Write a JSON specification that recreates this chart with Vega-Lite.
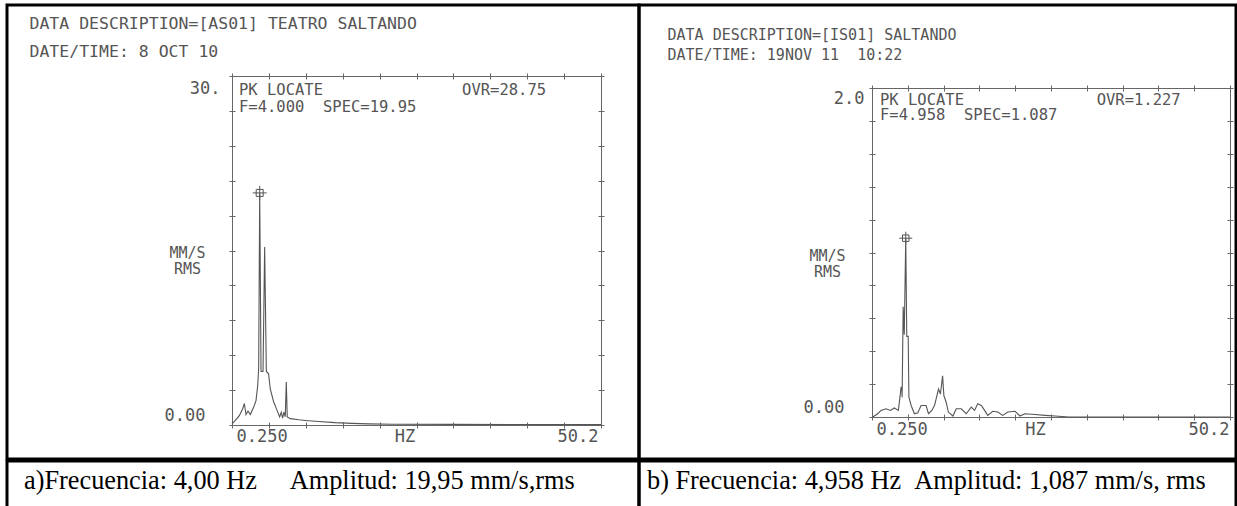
{
  "$schema": "https://vega.github.io/schema/vega-lite/v6.json",
  "padding": {"left": 5, "top": 3, "right": 0, "bottom": 0},
  "background": "white",
  "datasets": {
    "specA": [
      {"f": 0.25, "amp": 0.1}, {"f": 0.7, "amp": 0.4}, {"f": 1.24, "amp": 0.8}, {"f": 1.7, "amp": 1.4},
      {"f": 1.92, "amp": 1.85}, {"f": 2.15, "amp": 0.9}, {"f": 2.42, "amp": 1.2}, {"f": 2.73, "amp": 0.9},
      {"f": 3.19, "amp": 1.55}, {"f": 3.5, "amp": 2.1}, {"f": 3.73, "amp": 3.4}, {"f": 3.86, "amp": 4.9},
      {"f": 4.0, "amp": 19.95}, {"f": 4.18, "amp": 4.6}, {"f": 4.45, "amp": 4.6}, {"f": 4.67, "amp": 15.3},
      {"f": 4.9, "amp": 4.6}, {"f": 5.2, "amp": 4.4}, {"f": 5.43, "amp": 3.1}, {"f": 5.88, "amp": 2.0},
      {"f": 6.33, "amp": 1.3}, {"f": 6.7, "amp": 0.7}, {"f": 6.92, "amp": 1.1}, {"f": 7.1, "amp": 0.6},
      {"f": 7.28, "amp": 1.1}, {"f": 7.46, "amp": 0.7}, {"f": 7.6, "amp": 3.7}, {"f": 7.73, "amp": 0.7},
      {"f": 8.14, "amp": 0.55}, {"f": 9.27, "amp": 0.45}, {"f": 10.6, "amp": 0.37}, {"f": 12.0, "amp": 0.3},
      {"f": 14.2, "amp": 0.2}, {"f": 16.5, "amp": 0.14}, {"f": 18.7, "amp": 0.1}, {"f": 22, "amp": 0.07},
      {"f": 30, "amp": 0.05}, {"f": 40, "amp": 0.04}, {"f": 50.2, "amp": 0.03}
    ],
    "specB": [
      {"f": 0.35, "amp": 0}, {"f": 1.05, "amp": 0.02}, {"f": 1.51, "amp": 0.04}, {"f": 2.21, "amp": 0.05},
      {"f": 2.81, "amp": 0.04}, {"f": 3.37, "amp": 0.055}, {"f": 3.93, "amp": 0.04}, {"f": 4.31, "amp": 0.18},
      {"f": 4.4, "amp": 0.18}, {"f": 4.45, "amp": 0.12}, {"f": 4.6, "amp": 0.67}, {"f": 4.75, "amp": 0.5},
      {"f": 4.958, "amp": 1.087}, {"f": 5.1, "amp": 0.49}, {"f": 5.3, "amp": 0.49}, {"f": 5.4, "amp": 0.12},
      {"f": 5.71, "amp": 0.07}, {"f": 6.17, "amp": 0.02}, {"f": 6.64, "amp": 0.026}, {"f": 7.1, "amp": 0.07},
      {"f": 7.8, "amp": 0.07}, {"f": 8.13, "amp": 0.02}, {"f": 8.6, "amp": 0.04}, {"f": 8.97, "amp": 0.07},
      {"f": 9.2, "amp": 0.11}, {"f": 9.53, "amp": 0.17}, {"f": 9.8, "amp": 0.14}, {"f": 10.1, "amp": 0.25},
      {"f": 10.28, "amp": 0.13}, {"f": 10.6, "amp": 0.09}, {"f": 10.9, "amp": 0.03}, {"f": 11.54, "amp": 0.006},
      {"f": 12.0, "amp": 0.05}, {"f": 12.7, "amp": 0.05}, {"f": 13.4, "amp": 0.02}, {"f": 14.1, "amp": 0.06},
      {"f": 14.56, "amp": 0.04}, {"f": 15.0, "amp": 0.08}, {"f": 15.5, "amp": 0.07}, {"f": 15.96, "amp": 0.04},
      {"f": 16.4, "amp": 0.01}, {"f": 17.1, "amp": 0.035}, {"f": 17.8, "amp": 0.03}, {"f": 18.5, "amp": 0.01},
      {"f": 19.2, "amp": 0.03}, {"f": 20.2, "amp": 0.035}, {"f": 20.9, "amp": 0.006}, {"f": 21.6, "amp": 0.02},
      {"f": 23.0, "amp": 0.015}, {"f": 24.4, "amp": 0.01}, {"f": 25.8, "amp": 0.006}, {"f": 27.7, "amp": 0},
      {"f": 50.2, "amp": 0}
    ],
    "notesA": [
      {"f": 1.2, "amp": 28.8, "label": "PK LOCATE"},
      {"f": 1.2, "amp": 27.3, "label": "F=4.000\u00a0\u00a0SPEC=19.95"},
      {"f": 31.4, "amp": 28.8, "label": "OVR=28.75"}
    ],
    "notesB": [
      {"f": 1.37, "amp": 1.93, "label": "PK LOCATE"},
      {"f": 1.37, "amp": 1.833, "label": "F=4.958\u00a0\u00a0SPEC=1.087"},
      {"f": 31.6, "amp": 1.93, "label": "OVR=1.227"}
    ],
    "captions": [
      {"panel": "a", "caption": "a)Frecuencia: 4,00 Hz \u00a0\u00a0\u00a0\u00a0Amplitud: 19,95 mm/s,rms"},
      {"panel": "b", "caption": "b) Frecuencia: 4,958 Hz \u00a0Amplitud: 1,087 mm/s, rms"}
    ]
  },
  "vconcat": [
    {
      "hconcat": [
        {
          "width": 632,
          "height": 454,
          "resolve": {"axis": {"x": "independent", "y": "independent"}},
          "layer": [
            {
              "data": {"name": "specA"},
              "mark": {"type": "line", "color": "#555", "strokeWidth": 1.1},
              "encoding": {
                "x": {
                  "field": "f", "type": "quantitative",
                  "scale": {"domain": [0.25, 50.2], "range": [225, 594], "nice": false, "zero": false},
                  "axis": {
                    "orient": "bottom", "offset": -34,
                    "values": [0.25, 5.245, 10.24, 15.235, 20.23, 25.225, 30.22, 35.215, 40.21, 45.205, 50.2],
                    "labelExpr": "datum.value == 0.25 ? '0.250' : datum.value == 50.2 ? '50.2' : datum.value == 25.225 ? 'HZ' : ''",
                    "labelFlush": true,
                    "labelOffset": {"condition": [{"test": "datum.value == 25.225", "value": -12}, {"test": "datum.value == 50.2", "value": -3}], "value": 4},
                    "labelPadding": 3,
                    "ticks": false, "grid": false, "title": null
                  }
                },
                "y": {
                  "field": "amp", "type": "quantitative",
                  "scale": {"domain": [0, 30], "range": [420, 71], "nice": false, "zero": false},
                  "axis": {
                    "orient": "left", "offset": -225,
                    "values": [0, 30],
                    "labelExpr": "datum.value == 30 ? '30.' : '0.00'",
                    "labelOffset": {"condition": {"test": "datum.value == 30", "value": 12}, "value": -10},
                    "labelPadding": {"condition": {"test": "datum.value == 30", "value": 12}, "value": 27},
                    "labelAlign": "right", "labelBaseline": "middle",
                    "ticks": false, "grid": false,
                    "title": ["MM/S", "RMS"],
                    "titleAngle": 0, "titleX": -45, "titleY": 240,
                    "titleAlign": "center", "titleBaseline": "top", "titleLineHeight": 16.5, "titleFontSize": 15
                  }
                }
              }
            },
            {
              "data": {"name": "specA"},
              "transform": [
                {"joinaggregate": [{"op": "max", "field": "amp", "as": "mx"}]},
                {"filter": "datum.amp == datum.mx"}
              ],
              "mark": {"type": "point", "shape": "M-1,-1H1V1H-1Z", "filled": false, "size": 49, "color": "#555", "strokeWidth": 1, "opacity": 1},
              "encoding": {
                "x": {
                  "field": "f", "type": "quantitative",
                  "axis": {
                    "orient": "top", "offset": -71, "values": [0.25, 50.2],
                    "labels": false, "ticks": false, "grid": false,
                    "title": ["DATA DESCRIPTION=[AS01] TEATRO SALTANDO", "DATE/TIME: 8 OCT 10"],
                    "titleX": 22, "titleY": -61, "titleAlign": "left", "titleBaseline": "top",
                    "titleLineHeight": 28, "titleFontSize": 16.5
                  }
                },
                "y": {
                  "field": "amp", "type": "quantitative",
                  "axis": {"orient": "right", "offset": -38, "values": [0, 30], "labels": false, "ticks": false, "grid": false, "title": null}
                }
              }
            },
            {
              "data": {"name": "specA"},
              "transform": [
                {"joinaggregate": [{"op": "max", "field": "amp", "as": "mx"}]},
                {"filter": "datum.amp == datum.mx"}
              ],
              "mark": {"type": "point", "shape": "M-1,0H1M0,-1V1", "filled": false, "size": 196, "color": "#555", "strokeWidth": 1, "opacity": 1},
              "encoding": {
                "x": {
                  "field": "f", "type": "quantitative",
                  "axis": {
                    "orient": "bottom", "offset": -37,
                    "values": [0.25, 5.245, 10.24, 15.235, 20.23, 25.225, 30.22, 35.215, 40.21, 45.205, 50.2],
                    "domain": false, "labels": false, "tickSize": 6, "grid": false, "title": null
                  }
                },
                "y": {
                  "field": "amp", "type": "quantitative",
                  "axis": {
                    "orient": "left", "offset": -228,
                    "values": [0, 3, 6, 9, 12, 15, 18, 21, 24, 27, 30],
                    "domain": false, "labels": false, "tickSize": 6, "grid": false, "title": null
                  }
                }
              }
            },
            {
              "data": {"name": "notesA"},
              "mark": {"type": "text", "align": "left", "baseline": "middle", "font": "DejaVu Sans Mono", "fontSize": 15.5, "color": "#555"},
              "encoding": {
                "x": {
                  "field": "f", "type": "quantitative",
                  "axis": {
                    "orient": "top", "offset": -74,
                    "values": [0.25, 5.245, 10.24, 15.235, 20.23, 25.225, 30.22, 35.215, 40.21, 45.205, 50.2],
                    "domain": false, "labels": false, "tickSize": 6, "grid": false, "title": null
                  }
                },
                "y": {
                  "field": "amp", "type": "quantitative",
                  "axis": {
                    "orient": "right", "offset": -41,
                    "values": [0, 3, 6, 9, 12, 15, 18, 21, 24, 27, 30],
                    "domain": false, "labels": false, "tickSize": 6, "grid": false, "title": null
                  }
                },
                "text": {"field": "label"}
              }
            }
          ]
        },
        {
          "width": 597,
          "height": 454,
          "resolve": {"axis": {"x": "independent", "y": "independent"}},
          "layer": [
            {
              "data": {"name": "specB"},
              "mark": {"type": "line", "color": "#555", "strokeWidth": 1.1},
              "encoding": {
                "x": {
                  "field": "f", "type": "quantitative",
                  "scale": {"domain": [0.25, 50.2], "range": [233, 591], "nice": false, "zero": false},
                  "axis": {
                    "orient": "bottom", "offset": -42,
                    "values": [0.25, 5.245, 10.24, 15.235, 20.23, 25.225, 30.22, 35.215, 40.21, 45.205, 50.2],
                    "labelExpr": "datum.value == 0.25 ? '0.250' : datum.value == 50.2 ? '50.2' : datum.value == 25.225 ? 'HZ' : ''",
                    "labelFlush": true,
                    "labelOffset": {"condition": [{"test": "datum.value == 25.225", "value": -16}, {"test": "datum.value == 50.2", "value": -1}], "value": 4},
                    "labelPadding": 4,
                    "ticks": false, "grid": false, "title": null
                  }
                },
                "y": {
                  "field": "amp", "type": "quantitative",
                  "scale": {"domain": [0, 2], "range": [412, 83], "nice": false, "zero": false},
                  "axis": {
                    "orient": "left", "offset": -233,
                    "values": [0, 2],
                    "labelExpr": "datum.value == 2 ? '2.0' : '0.00'",
                    "labelOffset": {"condition": {"test": "datum.value == 2", "value": 10}, "value": -10},
                    "labelPadding": {"condition": {"test": "datum.value == 2", "value": 8}, "value": 28},
                    "labelAlign": "right", "labelBaseline": "middle",
                    "ticks": false, "grid": false,
                    "title": ["MM/S", "RMS"],
                    "titleAngle": 0, "titleX": -45, "titleY": 243,
                    "titleAlign": "center", "titleBaseline": "top", "titleLineHeight": 16.5, "titleFontSize": 15
                  }
                }
              }
            },
            {
              "data": {"name": "specB"},
              "transform": [
                {"joinaggregate": [{"op": "max", "field": "amp", "as": "mx"}]},
                {"filter": "datum.amp == datum.mx"}
              ],
              "mark": {"type": "point", "shape": "M-1,-1H1V1H-1Z", "filled": false, "size": 42, "color": "#555", "strokeWidth": 1, "opacity": 1},
              "encoding": {
                "x": {
                  "field": "f", "type": "quantitative",
                  "axis": {
                    "orient": "top", "offset": -83, "values": [0.25, 50.2],
                    "labels": false, "ticks": false, "grid": false,
                    "title": ["DATA DESCRIPTION=[IS01] SALTANDO", "DATE/TIME: 19NOV 11\u00a0\u00a010:22"],
                    "titleX": 28, "titleY": -61, "titleAlign": "left", "titleBaseline": "top",
                    "titleLineHeight": 20, "titleFontSize": 15
                  }
                },
                "y": {
                  "field": "amp", "type": "quantitative",
                  "axis": {"orient": "right", "offset": -6, "values": [0, 2], "labels": false, "ticks": false, "grid": false, "title": null}
                }
              }
            },
            {
              "data": {"name": "specB"},
              "transform": [
                {"joinaggregate": [{"op": "max", "field": "amp", "as": "mx"}]},
                {"filter": "datum.amp == datum.mx"}
              ],
              "mark": {"type": "point", "shape": "M-1,0H1M0,-1V1", "filled": false, "size": 169, "color": "#555", "strokeWidth": 1, "opacity": 1},
              "encoding": {
                "x": {
                  "field": "f", "type": "quantitative",
                  "axis": {
                    "orient": "bottom", "offset": -45,
                    "values": [0.25, 5.245, 10.24, 15.235, 20.23, 25.225, 30.22, 35.215, 40.21, 45.205, 50.2],
                    "domain": false, "labels": false, "tickSize": 6, "grid": false, "title": null
                  }
                },
                "y": {
                  "field": "amp", "type": "quantitative",
                  "axis": {
                    "orient": "left", "offset": -236,
                    "values": [0, 0.2, 0.4, 0.6, 0.8, 1, 1.2, 1.4, 1.6, 1.8, 2],
                    "domain": false, "labels": false, "tickSize": 6, "grid": false, "title": null
                  }
                }
              }
            },
            {
              "data": {"name": "notesB"},
              "mark": {"type": "text", "align": "left", "baseline": "middle", "font": "DejaVu Sans Mono", "fontSize": 15.5, "color": "#555"},
              "encoding": {
                "x": {
                  "field": "f", "type": "quantitative",
                  "axis": {
                    "orient": "top", "offset": -86,
                    "values": [0.25, 5.245, 10.24, 15.235, 20.23, 25.225, 30.22, 35.215, 40.21, 45.205, 50.2],
                    "domain": false, "labels": false, "tickSize": 6, "grid": false, "title": null
                  }
                },
                "y": {
                  "field": "amp", "type": "quantitative",
                  "axis": {
                    "orient": "right", "offset": -9,
                    "values": [0, 0.2, 0.4, 0.6, 0.8, 1, 1.2, 1.4, 1.6, 1.8, 2],
                    "domain": false, "labels": false, "tickSize": 6, "grid": false, "title": null
                  }
                },
                "text": {"field": "label"}
              }
            }
          ]
        }
      ],
      "spacing": 0,
      "bounds": "flush"
    },
    {
      "hconcat": [
        {
          "width": 632,
          "height": 48,
          "data": {"name": "captions"},
          "transform": [{"filter": "datum.panel == 'a'"}],
          "mark": {"type": "text", "align": "left", "baseline": "middle", "font": "Liberation Serif", "fontSize": 26.3, "color": "black", "dx": 17, "dy": -4},
          "encoding": {
            "x": {"field": "panel", "type": "nominal", "bandPosition": 0, "axis": null, "scale": {"type": "band", "paddingInner": 0, "paddingOuter": 0}},
            "text": {"field": "caption"}
          }
        },
        {
          "width": 597,
          "height": 48,
          "data": {"name": "captions"},
          "transform": [{"filter": "datum.panel == 'b'"}],
          "mark": {"type": "text", "align": "left", "baseline": "middle", "font": "Liberation Serif", "fontSize": 26.3, "color": "black", "dx": 8, "dy": -4},
          "encoding": {
            "x": {"field": "panel", "type": "nominal", "bandPosition": 0, "axis": null, "scale": {"type": "band", "paddingInner": 0, "paddingOuter": 0}},
            "text": {"field": "caption"}
          }
        }
      ],
      "spacing": 0,
      "bounds": "flush"
    }
  ],
  "spacing": -3,
  "config": {
    "view": {"stroke": "black", "strokeWidth": 3},
    "axis": {
      "domainColor": "#666", "domainWidth": 1,
      "tickColor": "#666", "tickWidth": 1,
      "labelColor": "#555", "labelFont": "DejaVu Sans Mono", "labelFontSize": 17,
      "labelOverlap": false, "labelBound": false,
      "titleColor": "#555", "titleFont": "DejaVu Sans Mono", "titleFontSize": 16, "titleFontWeight": "normal"
    }
  }
}
